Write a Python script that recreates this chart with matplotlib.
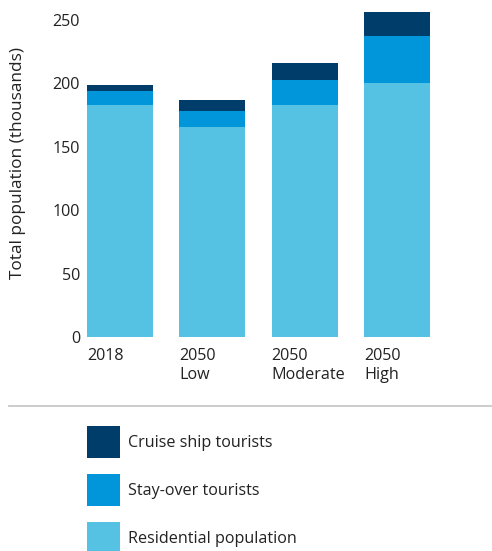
import matplotlib
matplotlib.use("Agg")
import matplotlib.pyplot as plt
from matplotlib.lines import Line2D

plt.rcParams['font.family'] = ['Open Sans', 'DejaVu Sans']

categories = ["2018", "2050\nLow", "2050\nModerate", "2050\nHigh"]
residential = [183, 166, 183, 200]
stay_over = [11, 12, 20, 37]
cruise = [5, 9, 13, 19]
yticks = [0, 50, 100, 150, 200, 250]

c_res = "#55c1e3"
c_stay = "#0096d9"
c_cruise = "#003d6b"
txt = "#222222"
fs = 11.6

W, H = 492, 551
fig = plt.figure(figsize=(W / 100, H / 100), dpi=100)

left_px, right_px, top_px, bot_px = 87, 445, 5, 340
ax = fig.add_axes([left_px / W, 1 - bot_px / H, (right_px - left_px) / W, (bot_px - top_px) / H])

x = list(range(len(categories)))
width = 0.715
b1 = ax.bar(x, residential, width, color=c_res, label="Residential population")
b2 = ax.bar(x, stay_over, width, bottom=residential, color=c_stay, label="Stay-over tourists")
bottom3 = [r + s for r, s in zip(residential, stay_over)]
b3 = ax.bar(x, cruise, width, bottom=bottom3, color=c_cruise, label="Cruise ship tourists")

px_per_unit_x = 92.33
ax.set_xlim(-(120 - left_px) / px_per_unit_x, (right_px - 120) / px_per_unit_x)
ppu_y = 1.268
ax.set_ylim(-(bot_px - 337) / ppu_y, (337 - top_px) / ppu_y)

for s in ax.spines.values():
    s.set_visible(False)
ax.set_xticks([])
ax.set_yticks(yticks)
ax.set_yticklabels([str(t) for t in yticks], fontsize=fs, color=txt)
ax.tick_params(axis='y', length=0, pad=5)

for xi, lab in zip(x, categories):
    ax.text(xi - width / 2, -0.025, lab, transform=ax.get_xaxis_transform(),
            ha='left', va='top', fontsize=fs, color=txt, linespacing=1.2)

fig.text(18 / W, 1 - 163 / H, "Total population (thousands)", rotation=90,
         ha='center', va='center', fontsize=12.4, color=txt)

fig.add_artist(Line2D([9 / W, 1.0], [1 - 406 / H, 1 - 406 / H], transform=fig.transFigure,
                      color="#c8c8c8", lw=1.3))

hw = 33 / (fs * 100 / 72)
hh = hw * 1.3
leg = fig.legend(handles=[b3, b2, b1], labels=["Cruise ship tourists", "Stay-over tourists", "Residential population"],
                 loc='upper left', bbox_to_anchor=(87 / W, 1 - 426 / H), frameon=False,
                 borderpad=0, borderaxespad=0, handlelength=hw, handleheight=hh,
                 handletextpad=0.5, labelspacing=1.0, fontsize=fs)
for t in leg.get_texts():
    t.set_color(txt)

fig.savefig("out.png", dpi=100)
